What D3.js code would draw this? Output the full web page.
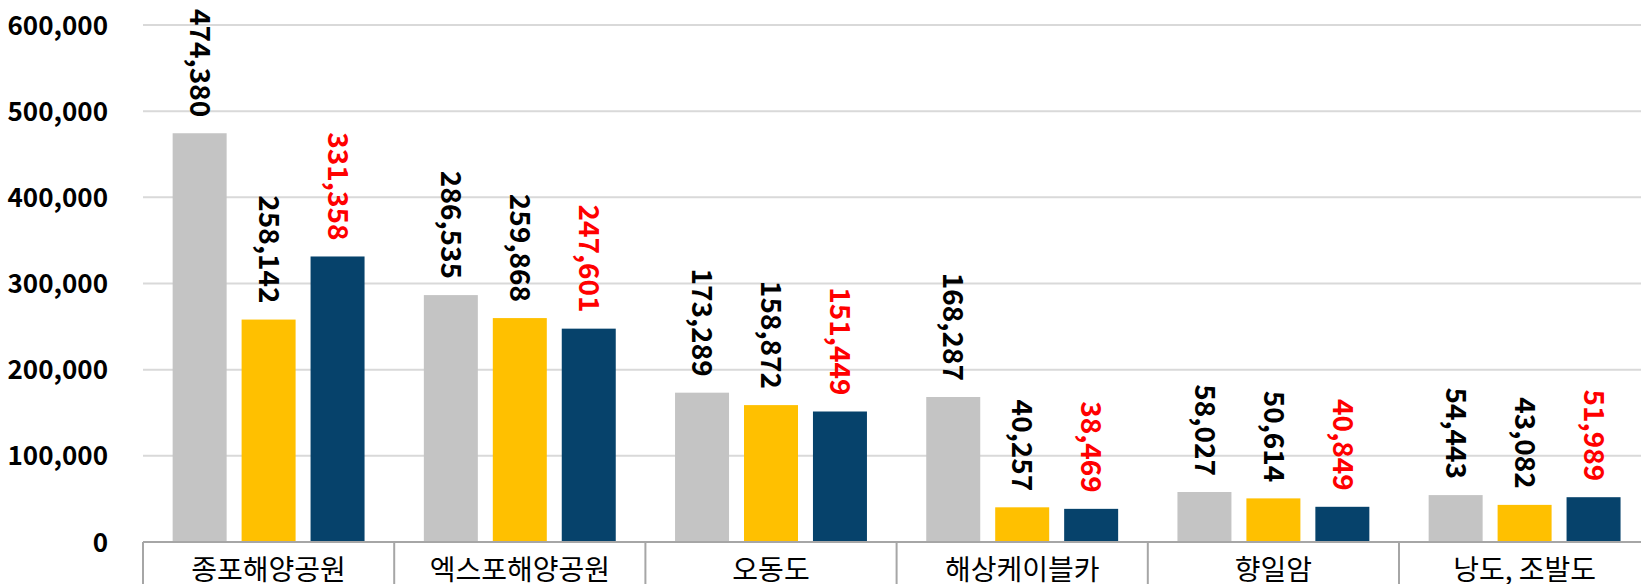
<!DOCTYPE html>
<html>
<head>
<meta charset="utf-8">
<script src="https://cdn.jsdelivr.net/npm/d3@7"></script>
<style>
	body { margin: 0; background: #fff; }
	svg { display: block; }
</style>
</head>
<body>
<div id="chart"></div>
<script>
/** Data **/
var categories = ["종포해양공원", "엑스포해양공원", "오동도", "해상케이블카", "향일암", "낭도, 조발도"];
var seriesNames = ["s1", "s2", "s3"];
var series1 = [474380, 286535, 173289, 168287, 58027, 54443];
var series2 = [258142, 259868, 158872, 40257, 50614, 43082];
var series3 = [331358, 247601, 151449, 38469, 40849, 51989];
var yTicks = [0, 100000, 200000, 300000, 400000, 500000, 600000];

var barColors = ["#c4c4c4", "#ffc000", "#06426b"];
var labelColors = ["#000000", "#000000", "#ff0000"];

function drawChart()
{
	var width = 1641;
	var height = 584;
	var left = 143;
	var catWidth = 251.2;
	var top = 25;
	var bottom = 542;

	var svg = d3.select("#chart")
		.append("svg")
		.attr("width", width)
		.attr("height", height);

	var y = d3.scaleLinear()
		.domain([0, 600000])
		.range([bottom, top]);

	var x0 = d3.scaleBand()
		.domain(categories)
		.range([left, left + catWidth * categories.length]);

	var x1 = d3.scaleBand()
		.domain(seriesNames)
		.range([0, catWidth])
		.paddingInner(0.217)
		.paddingOuter(0.43);

	// gridlines
	svg.append("g")
		.selectAll("line")
		.data(yTicks.slice(1))
		.enter()
		.append("line")
		.attr("x1", left)
		.attr("x2", width)
		.attr("y1", function(d) { return y(d); })
		.attr("y2", function(d) { return y(d); })
		.attr("stroke", "#d9d9d9")
		.attr("stroke-width", 2);

	// y axis labels (no line)
	var yAxis = d3.axisLeft(y)
		.tickValues(yTicks)
		.tickSize(0)
		.tickPadding(0)
		.tickFormat(d3.format(","));

	var yg = svg.append("g")
		.attr("transform", "translate(108,0)")
		.call(yAxis);
	yg.select(".domain").remove();
	yg.selectAll("text")
		.attr("font-family", "'Noto Sans CJK KR', 'Noto Sans', sans-serif")
		.attr("font-weight", "bold")
		.attr("font-size", 26)
		.attr("fill", "#000")
		.attr("dy", "0.35em");

	var rows = [];
	categories.forEach(function(cat, i)
	{
		[series1, series2, series3].forEach(function(s, j)
		{
			rows.push({ cat: cat, key: seriesNames[j], idx: j, value: s[i] });
		});
	});

	var groups = svg.append("g");

	groups.selectAll("rect")
		.data(rows)
		.enter()
		.append("rect")
		.attr("x", function(d) { return x0(d.cat) + x1(d.key); })
		.attr("width", x1.bandwidth())
		.attr("y", function(d) { return y(d.value); })
		.attr("height", function(d) { return bottom - y(d.value); })
		.attr("fill", function(d) { return barColors[d.idx]; });

	// value labels, rotated to read downwards
	groups.selectAll("text")
		.data(rows)
		.enter()
		.append("text")
		.attr("transform", function(d)
		{
			var cx = x0(d.cat) + x1(d.key) + x1.bandwidth() / 2;
			return "translate(" + cx + "," + (y(d.value) - 16) + ") rotate(90)";
		})
		.attr("text-anchor", "end")
		.attr("dy", "0.35em")
		.attr("font-family", "'Noto Sans CJK KR', 'Noto Sans', sans-serif")
		.attr("font-weight", "bold")
		.attr("font-size", 28)
		.attr("fill", function(d) { return labelColors[d.idx]; })
		.text(function(d) { return d3.format(",")(d.value); });

	// category axis
	var xg = svg.append("g");
	xg.append("line")
		.attr("x1", left)
		.attr("x2", width)
		.attr("y1", bottom)
		.attr("y2", bottom)
		.attr("stroke", "#a6a6a6")
		.attr("stroke-width", 2);

	xg.selectAll(".sep")
		.data(categories)
		.enter()
		.append("line")
		.attr("class", "sep")
		.attr("x1", function(d) { return x0(d); })
		.attr("x2", function(d) { return x0(d); })
		.attr("y1", bottom)
		.attr("y2", height)
		.attr("stroke", "#a6a6a6")
		.attr("stroke-width", 2);

	xg.selectAll(".cat")
		.data(categories)
		.enter()
		.append("text")
		.attr("class", "cat")
		.attr("x", function(d) { return x0(d) + x0.bandwidth() / 2; })
		.attr("y", 580)
		.attr("text-anchor", "middle")
		.attr("font-family", "'Noto Sans CJK KR', sans-serif")
		.attr("font-size", 28)
		.attr("fill", "#000")
		.text(function(d) { return d; });
}

drawChart();
</script>
</body>
</html>
